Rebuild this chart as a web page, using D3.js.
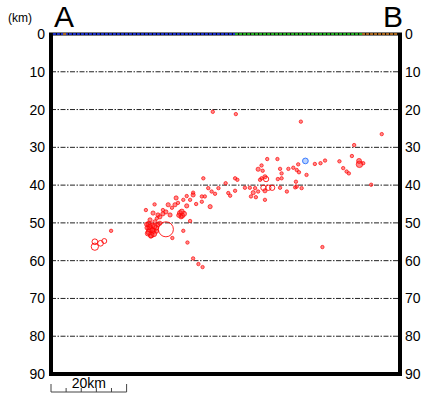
<!DOCTYPE html>
<html>
<head>
<meta charset="utf-8">
<script src="https://cdn.jsdelivr.net/npm/d3@7"></script>
<style>
  body { margin: 0; background: #fff; }
  svg { font-family: "Liberation Sans", Arial, sans-serif; }
</style>
</head>
<body>
<script>
// distance along profile A-B (km), depth (km), magnitude, kind
var eqDist = [11.6, 11.6, 13.1, 14.1, 15.9,
  25.9, 26.7, 26.2, 27.0, 25.9, 27.2, 26.5, 27.8, 25.4, 27.5, 26.2, 28.3,
  26.0, 26.8, 25.6, 27.4, 26.4, 25.3, 27.9,
  30.4,
  25.1, 27.4, 27.0, 28.3, 29.6, 28.8, 30.4, 31.5, 28.0, 28.8, 32.0, 33.6, 32.8,
  34.1, 34.7, 35.2, 34.4, 35.9, 35.0, 35.9, 37.6, 37.6, 36.8, 38.4, 39.9, 40.7,
  39.9, 42.1, 42.5, 41.6, 40.3, 36.8, 35.0, 32.1, 36.1, 37.6, 39.0, 40.1,
  33.1, 31.0, 29.6, 34.6, 33.8,
  42.8, 48.9, 66.1, 87.5, 80.2, 79.6,
  44.3, 43.4, 46.2, 46.9, 47.4, 48.7, 48.7, 49.3, 51.3, 52.6, 54.0, 53.5, 54.8,
  52.9, 54.2, 55.7, 54.8, 56.0, 56.6, 55.7, 57.2, 59.9, 56.2, 57.5, 58.5, 56.6,
  60.6, 56.6, 60.6, 61.0, 62.8, 64.1, 60.0, 61.0, 64.8, 64.6, 62.4, 55.3, 56.9,
  67.3, 65.4, 65.0, 65.6, 67.6, 65.0, 66.3, 69.8, 71.3, 72.5, 76.3, 81.6, 81.5,
  82.6, 77.3, 78.2, 78.8, 84.7, 71.8];
var eqDepth = [55.0, 56.3, 55.4, 54.8, 52.1,
  50.3, 50.8, 51.6, 52.1, 52.4, 52.9, 53.2, 51.3, 51.3, 49.7, 49.2, 50.5,
  51.0, 51.9, 52.8, 50.9, 53.5, 50.4, 52.2,
  51.7,
  46.6, 45.1, 47.4, 47.9, 47.6, 48.4, 47.1, 47.9, 48.8, 50.1, 46.0, 44.7, 45.2,
  47.4, 48.1, 47.6, 48.4, 45.5, 43.9, 42.9, 42.0, 42.6, 43.9, 45.0, 43.0, 43.0,
  44.4, 45.7, 41.7, 40.8, 38.2, 49.5, 52.1, 54.0, 55.2, 59.4, 60.9, 61.7,
  43.4, 45.2, 46.6, 47.0, 48.0,
  20.6, 21.2, 23.2, 26.5, 29.4, 32.3,
  40.8, 42.3, 39.5, 42.1, 42.8, 41.5, 38.2, 38.6, 40.7, 40.7, 40.8, 42.0, 41.7,
  43.0, 43.2, 34.8, 35.8, 36.2, 37.8, 38.2, 33.1, 33.1, 40.7, 40.7, 40.7, 41.5,
  40.7, 43.9, 35.7, 36.9, 35.7, 35.4, 38.4, 38.2, 39.1, 40.6, 41.7, 38.6, 38.4,
  33.6, 34.5, 36.0, 36.6, 37.3, 40.4, 40.8, 34.4, 34.2, 33.5, 33.7, 34.5, 33.6,
  34.2, 35.5, 36.4, 36.9, 39.9, 56.4];
var eqMag = [1.6, 2.0, 1.6, 1.4, 1.0,
  1.6, 1.6, 1.8, 1.6, 1.6, 1.6, 1.6, 1.4, 1.2, 1.2, 1.2, 1.2,
  1.4, 1.4, 1.4, 1.4, 1.2, 1.2, 1.2,
  4.0,
  1.0, 1.0, 1.2, 1.2, 1.2, 1.2, 1.2, 1.2, 1.0, 1.2, 1.0, 1.0, 1.2,
  1.4, 1.4, 1.4, 1.2, 1.2, 1.0, 1.0, 1.0, 1.2, 1.0, 1.0, 1.0, 1.0,
  1.0, 1.2, 1.0, 1.0, 1.0, 1.0, 1.0, 1.0, 1.0, 1.0, 1.0, 1.0,
  1.2, 1.2, 1.0, 1.4, 1.2,
  1.0, 1.0, 1.0, 1.0, 1.0, 1.0,
  1.0, 1.0, 1.0, 1.0, 1.0, 1.0, 1.0, 1.0, 1.0, 1.0, 1.0, 1.2, 1.0,
  1.0, 1.0, 1.0, 1.2, 1.0, 1.2, 1.0, 1.0, 1.0, 1.5, 1.5, 1.5, 1.2,
  1.0, 1.0, 1.0, 1.0, 1.0, 1.0, 1.0, 1.0, 1.0, 1.0, 1.0, 1.0, 1.5,
  1.6, 1.0, 1.0, 1.0, 1.0, 1.0, 1.0, 1.0, 1.0, 1.0, 1.0, 1.8, 1.4,
  1.0, 1.0, 1.0, 1.0, 1.0, 1.0];
// kind: f = filled, o = open circle, b = blue
var eqKind = ["o", "o", "o", "o", "f",
  "f", "f", "f", "f", "f", "f", "f", "f", "f", "f", "f", "f",
  "f", "f", "f", "f", "f", "f", "f",
  "o",
  "f", "f", "f", "f", "f", "f", "f", "f", "f", "f", "f", "f", "f",
  "f", "f", "f", "f", "f", "f", "f", "f", "f", "f", "f", "f", "f",
  "f", "f", "f", "f", "f", "f", "f", "f", "f", "f", "f", "f",
  "f", "f", "f", "f", "f",
  "f", "f", "f", "f", "f", "f",
  "f", "f", "f", "f", "f", "f", "f", "f", "f", "f", "f", "f", "f",
  "f", "f", "f", "f", "f", "f", "f", "f", "f", "o", "o", "o", "f",
  "f", "f", "f", "f", "f", "f", "f", "f", "f", "f", "f", "f", "o",
  "b", "f", "f", "f", "f", "f", "f", "f", "f", "f", "f", "f", "f",
  "f", "f", "f", "f", "f", "f"];

var depthTicks = [0, 10, 20, 30, 40, 50, 60, 70, 80, 90];
// colored band along the top of the section (km ranges)
var bandStart = [0.5, 48.7, 82.3, 3.2];
var bandEnd = [48.7, 82.3, 91.8, 4.0];
var bandColor = ["#1a2ec8", "#1fa81f", "#a8641a", "#a8641a"];

var W = 421, H = 395;
var margin = { top: 34, right: 21, bottom: 21, left: 51 };
var width = W - margin.left - margin.right,
    height = H - margin.top - margin.bottom;

var svg = d3.select("body").append("svg")
  .attr("width", W).attr("height", H);

var x = d3.scaleLinear().domain([0, width / 3.78]).range([margin.left, margin.left + width]);
var y = d3.scaleLinear().domain([0, 90]).range([margin.top, margin.top + height]);
var r = d3.scaleLinear().domain([1, 4]).range([1.7, 7.5]);

// dashed grid
svg.append("g").selectAll("line")
  .data(depthTicks.filter(function (d) { return d > 0 && d < 90; }))
  .enter().append("line")
  .attr("x1", x.range()[0]).attr("x2", x.range()[1])
  .attr("y1", function (d) { return y(d); }).attr("y2", function (d) { return y(d); })
  .attr("stroke", "#222").attr("stroke-width", 1)
  .attr("stroke-dasharray", "5,1.5,1.5,1.5");

// depth labels left and right
svg.append("g").selectAll("text")
  .data(depthTicks).enter().append("text")
  .attr("x", margin.left - 6).attr("y", function (d) { return y(d) + 5; })
  .attr("text-anchor", "end").attr("font-size", 14).text(function (d) { return d; });
svg.append("g").selectAll("text")
  .data(depthTicks).enter().append("text")
  .attr("x", margin.left + width + 5).attr("y", function (d) { return y(d) + 5; })
  .attr("text-anchor", "start").attr("font-size", 14).text(function (d) { return d; });

// hypocentres
var idx = d3.range(eqDist.length).sort(function (a, b) { return eqMag[b] - eqMag[a]; });
svg.append("g").selectAll("circle")
  .data(idx).enter().append("circle")
  .attr("cx", function (i) { return x(eqDist[i]); })
  .attr("cy", function (i) { return y(eqDepth[i]); })
  .attr("r", function (i) { return r(eqMag[i]); })
  .attr("fill", function (i) {
    return eqKind[i] === "b" ? "rgba(120,170,255,0.5)" : eqKind[i] === "o" ? "none" : "rgba(255,40,40,0.55)";
  })
  .attr("stroke", function (i) { return eqKind[i] === "b" ? "#3a7bff" : "rgba(255,0,0,0.85)"; })
  .attr("stroke-width", function (i) { return eqKind[i] === "f" ? 0.8 : 1; });

// frame
var fx0 = x.range()[0], fx1 = x.range()[1], fy0 = y.range()[0], fy1 = y.range()[1];
svg.append("path")
  .attr("d", "M" + fx0 + "," + fy0 + "V" + fy1 + "H" + fx1 + "V" + fy0)
  .attr("fill", "none").attr("stroke", "#000").attr("stroke-width", 4);
svg.append("line")
  .attr("x1", fx0 - 2).attr("x2", fx1 + 2).attr("y1", fy0).attr("y2", fy0)
  .attr("stroke", "#000").attr("stroke-width", 3);

// top band
svg.append("g").selectAll("line")
  .data(d3.range(bandStart.length)).enter().append("line")
  .attr("x1", function (i) { return x(bandStart[i]); })
  .attr("x2", function (i) { return x(bandEnd[i]); })
  .attr("y1", fy0).attr("y2", fy0)
  .attr("stroke", function (i) { return bandColor[i]; })
  .attr("stroke-width", 2)
  .attr("stroke-dasharray", "3,1");

// labels
svg.append("text").attr("x", 54).attr("y", 27).attr("font-size", 30).text("A");
svg.append("text").attr("x", 383).attr("y", 27).attr("font-size", 30).text("B");
svg.append("text").attr("x", 8).attr("y", 22).attr("font-size", 12).text("(km)");

// scale bar, 20 km split in 5
var sb = [0, 4, 8, 12, 16, 20];
var sby = 392;
svg.append("line")
  .attr("x1", x(0)).attr("x2", x(20)).attr("y1", sby).attr("y2", sby)
  .attr("stroke", "#444").attr("stroke-width", 1);
svg.append("g").selectAll("line")
  .data(sb).enter().append("line")
  .attr("x1", function (d) { return x(d); }).attr("x2", function (d) { return x(d); })
  .attr("y1", function (d, i) { return (i === 0 || i === sb.length - 1) ? sby - 8 : sby - 4; })
  .attr("y2", sby)
  .attr("stroke", "#444").attr("stroke-width", 1);
svg.append("text").attr("x", x(10)).attr("y", sby - 4)
  .attr("text-anchor", "middle").attr("font-size", 14).text("20km");
</script>
</body>
</html>
